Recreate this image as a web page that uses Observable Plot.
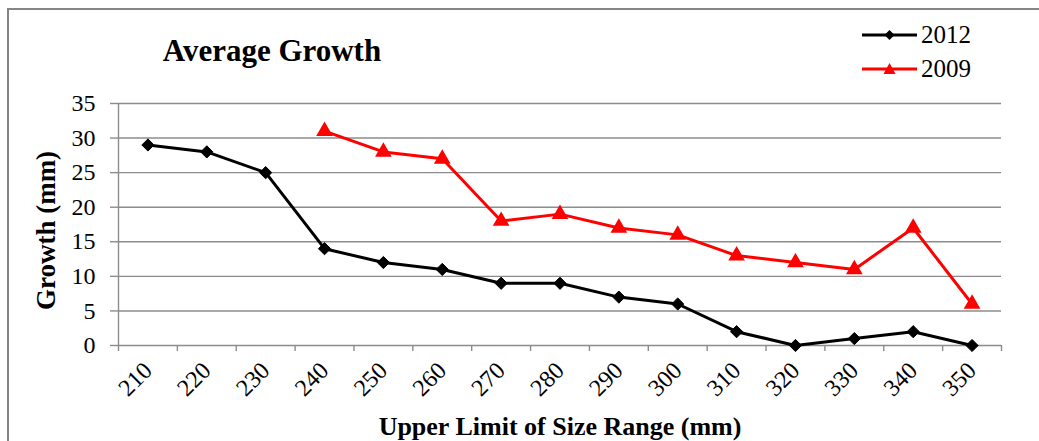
<!DOCTYPE html>
<html>
<head>
<meta charset="utf-8">
<script src="https://cdn.jsdelivr.net/npm/d3@7"></script>
<script src="https://cdn.jsdelivr.net/npm/@observablehq/plot@0.6"></script>
<style>
  html, body { margin: 0; padding: 0; background: #fff; }
  #wrap { position: relative; width: 1039px; height: 441px; overflow: hidden; font-family: "Liberation Serif", "Times New Roman", serif; }
  #frame { position: absolute; left: 7px; top: 8px; width: 1100px; height: 500px; border: 2.5px solid #858585; box-sizing: border-box; }
  #title { position: absolute; left: 272px; top: 33px; transform: translateX(-50%); font-size: 31px; font-weight: bold; white-space: nowrap; }
  .leg { position: absolute; left: 862px; height: 28px; display: flex; align-items: center; font-size: 25px; }
  .leg span { margin-left: 4px; }
  #chart { position: absolute; left: 0; top: 0; }
</style>
</head>
<body>
<div id="wrap">
  <div id="frame"></div>
  <div id="chart"></div>
  <div id="title">Average Growth</div>
  <div class="leg" style="top:21px"><svg width="55" height="16"><line x1="0" y1="8" x2="55" y2="8" stroke="#000" stroke-width="3"/><path d="M27.5 3 L32.5 8 L27.5 13 L22.5 8 Z" fill="#000"/></svg><span>2012</span></div>
  <div class="leg" style="top:55px"><svg width="55" height="16"><line x1="0" y1="8" x2="55" y2="8" stroke="#f00" stroke-width="3"/><path d="M27.5 2 L33.5 13 L21.5 13 Z" fill="#f00"/></svg><span>2009</span></div>
</div>
<script>
// Upper limit of each size class (mm)
const sizes = [210, 220, 230, 240, 250, 260, 270, 280, 290, 300, 310, 320, 330, 340, 350];
// Average growth (mm) per size class, 2012 survey
const growth2012 = [29, 28, 25, 14, 12, 11, 9, 9, 7, 6, 2, 0, 1, 2, 0];
// 2009 survey covers the larger classes only
const sizes2009 = [240, 250, 260, 270, 280, 290, 300, 310, 320, 330, 340, 350];
const growth2009 = [31, 28, 27, 18, 19, 17, 16, 13, 12, 11, 17, 6];
const yTicks = [0, 5, 10, 15, 20, 25, 30, 35];

const rows2012 = sizes.map((s, i) => ({size: s, growth: growth2012[i]}));
const rows2009 = sizes2009.map((s, i) => ({size: s, growth: growth2009[i]}));
// class boundaries sit halfway between the category centres
const bounds = sizes.map(s => s - 5).concat([sizes[sizes.length - 1] + 5]);

const gray = "#8c8c8c";

const chart = Plot.plot({
  width: 1039,
  height: 441,
  marginLeft: 118,
  marginRight: 38,
  marginTop: 103,
  marginBottom: 96,
  style: {fontFamily: "'Liberation Serif', 'Times New Roman', serif", fontSize: "24px", color: "#000", background: "transparent"},
  x: {domain: [bounds[0], bounds[bounds.length - 1]]},
  y: {domain: [0, 35]},
  marks: [
    Plot.gridY(yTicks, {stroke: gray, strokeOpacity: 1, strokeWidth: 1.4}),
    Plot.ruleX([bounds[0]], {stroke: gray, strokeWidth: 1.4}),
    Plot.axisY({ticks: yTicks, tickSize: 8, tickPadding: 15, stroke: gray, strokeWidth: 1.4, fontSize: 24, label: null}),
    Plot.axisX({ticks: bounds, tickSize: 6, tickFormat: () => "", stroke: gray, strokeWidth: 1.4, label: null}),
    Plot.axisX({ticks: sizes, tickSize: 0, tickRotate: -45, tickPadding: 21, tickFormat: d => String(d), fontSize: 24, label: null}),
    Plot.text(["Upper Limit of Size Range (mm)"], {frameAnchor: "bottom", lineAnchor: "middle", dy: 81, fontSize: 26, fontWeight: "bold"}),
    Plot.text(["Growth (mm)"], {frameAnchor: "left", textAnchor: "middle", lineAnchor: "middle", rotate: -90, dx: -72, dy: 6, fontSize: 27, fontWeight: "bold"}),
    Plot.line(rows2012, {x: "size", y: "growth", stroke: "#000", strokeWidth: 3}),
    Plot.dot(rows2012, {x: "size", y: "growth", symbol: "diamond2", fill: "#000", stroke: "#000", strokeWidth: 1, r: 5.5}),
    Plot.line(rows2009, {x: "size", y: "growth", stroke: "#f00", strokeWidth: 3}),
    Plot.dot(rows2009, {x: "size", y: "growth", symbol: "triangle", fill: "#f00", r: 6.2})
  ]
});
document.getElementById("chart").appendChild(chart);
</script>
</body>
</html>
